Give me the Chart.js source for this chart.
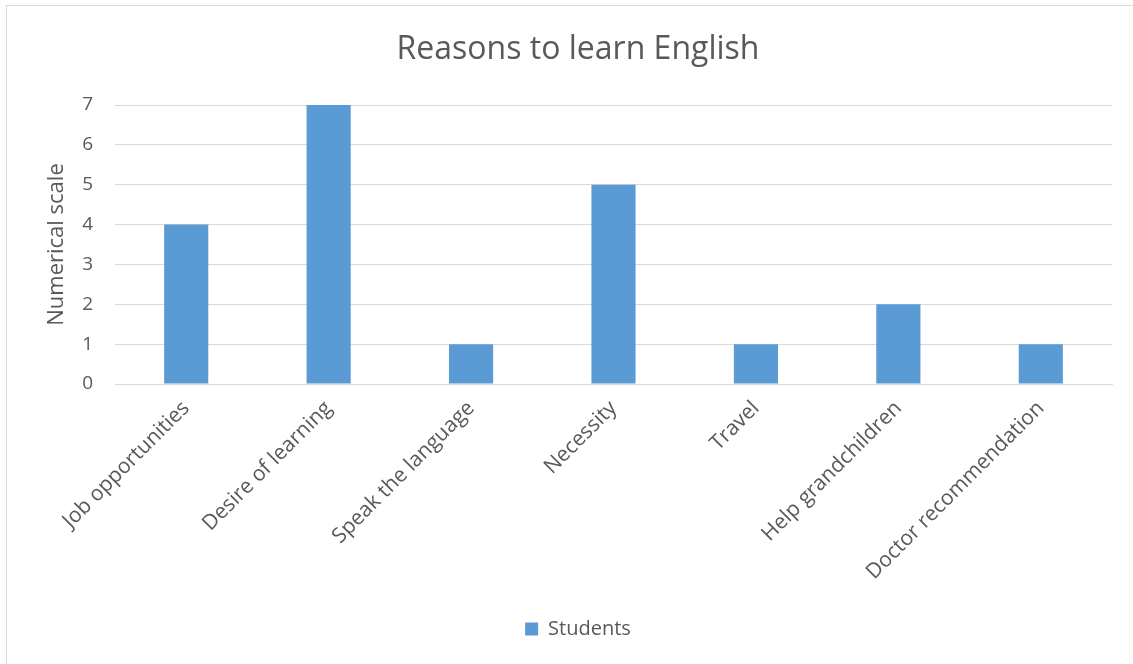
<!DOCTYPE html>
<html>
<head>
<meta charset="utf-8">
<script src="https://cdn.jsdelivr.net/npm/chart.js@4"></script>
<style>
  html, body { margin: 0; padding: 0; background: #fff; overflow: hidden; }
  #wrap { position: relative; width: 1133px; height: 664px; }
  #frame { position: absolute; left: 6px; top: 5px; width: 1140px; height: 680px; border: 1.5px solid #d9d9d9; box-sizing: border-box; }
  canvas { position: absolute; left: 0; top: 0; }
</style>
</head>
<body>
<div id="wrap">
  <div id="frame"></div>
  <canvas id="c" width="1133" height="664"></canvas>
</div>
<script>
const categories = [
  'Job opportunities',
  'Desire of learning',
  'Speak the language',
  'Necessity',
  'Travel',
  'Help grandchildren',
  'Doctor recommendation'
];
const students = [4, 7, 1, 5, 1, 2, 1];
const yTicks = [0, 1, 2, 3, 4, 5, 6, 7];

const FONT = "'Open Sans', sans-serif";
const TEXT = '#595959';
const GRID = '#d9d9d9';
const BAR = '#5b9bd5';

new Chart(document.getElementById('c'), {
  type: 'bar',
  data: {
    labels: categories,
    datasets: [{
      label: 'Students',
      data: students,
      backgroundColor: BAR,
      borderWidth: 0,
      categoryPercentage: 1,
      barPercentage: 0.31
    }]
  },
  options: {
    responsive: false,
    animation: false,
    layout: { padding: { left: 44, right: 21, top: 0, bottom: 15 } },
    plugins: {
      title: {
        display: true,
        text: 'Reasons to learn English',
        color: TEXT,
        font: { family: FONT, size: 32, weight: 'normal', lineHeight: 1.2 },
        padding: { top: 31, bottom: 35.6 }
      },
      legend: {
        position: 'bottom',
        labels: {
          color: TEXT,
          font: { family: FONT, size: 20 },
          boxWidth: 13,
          boxHeight: 13,
          padding: 10
        }
      },
      tooltip: { enabled: false }
    },
    scales: {
      x: {
        grid: { display: false },
        border: { color: GRID, width: 1 },
        ticks: {
          color: TEXT,
          font: { family: FONT, size: 21 },
          minRotation: 45,
          maxRotation: 45,
          padding: 4
        },
        afterFit(scale) { scale.height = 225; }
      },
      y: {
        min: 0,
        max: 7,
        afterBuildTicks(scale) { scale.ticks = yTicks.map(v => ({ value: v })); },
        grid: { color: GRID, lineWidth: 1, drawTicks: false },
        border: { display: false },
        ticks: {
          color: TEXT,
          font: { family: FONT, size: 19 },
          padding: 22
        },
        title: {
          display: true,
          text: 'Numerical scale',
          color: TEXT,
          font: { family: FONT, size: 22 },
          padding: { top: 0, bottom: 0 }
        },
        afterFit(scale) { scale.width = 71; }
      }
    }
  }
});
</script>
</body>
</html>
